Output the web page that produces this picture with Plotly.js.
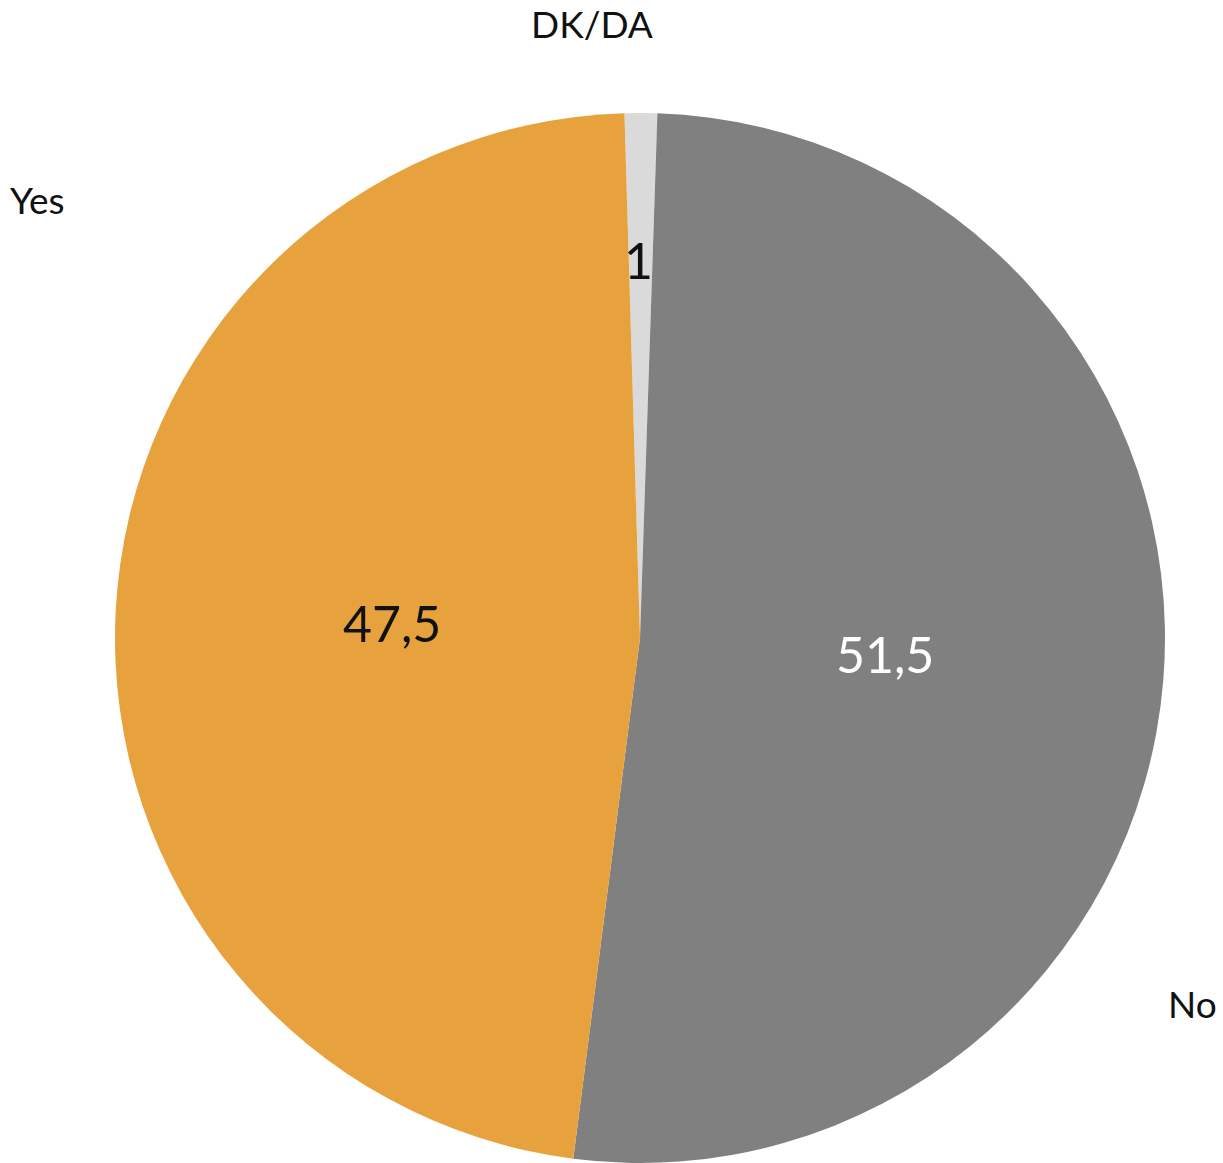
<!DOCTYPE html>
<html>
<head>
<meta charset="utf-8">
<script src="https://cdn.plot.ly/plotly-3.0.1.min.js"></script>
<style>html,body{margin:0;padding:0;background:#fff;}#chart{width:1223px;height:1163px;}</style>
</head>
<body>
<div id="chart"></div>
<script>
const categories = ["DK/DA", "No", "Yes"];
const values = [1, 51.5, 47.5];
const colors = ["#DADADA", "#7F807F", "#E7A23D"];
const valueTextColors = ["#111111", "#FFFFFF", "#111111"];

// label placement (pixel positions in the 1223x1163 page)
const W = 1223, H = 1163;
const categoryLabelPos = [[592, 0], [1192, 1003], [37, 200]];
const categoryLabelAnchor = ['top', 'middle', 'middle'];
const valueLabelPos = [[638, 260], [885, 654], [392, 623]];

function fmt(v) { return String(v).replace('.', ','); }

const font = "Lato, 'Open Sans', sans-serif";
const annotations = [];
categories.forEach((c, i) => {
  annotations.push({
    text: c, xref: 'paper', yref: 'paper',
    x: categoryLabelPos[i][0] / W, y: 1 - categoryLabelPos[i][1] / H,
    xanchor: 'center', yanchor: categoryLabelAnchor[i], showarrow: false,
    borderpad: 0,
    font: {family: font, size: 37, color: '#111111'}
  });
  annotations.push({
    text: fmt(values[i]), xref: 'paper', yref: 'paper',
    x: valueLabelPos[i][0] / W, y: 1 - valueLabelPos[i][1] / H,
    xanchor: 'center', yanchor: 'middle', showarrow: false,
    font: {family: font, size: 50, color: valueTextColors[i]}
  });
});

const trace = {
  type: 'pie',
  labels: categories,
  values: values,
  sort: false,
  direction: 'clockwise',
  rotation: -1.7,
  marker: {colors: colors, line: {width: 0}},
  textinfo: 'none',
  hoverinfo: 'none',
  showlegend: false,
  domain: {x: [115 / W, 1165 / W], y: [0, 1050 / H]}
};

Plotly.newPlot('chart', [trace], {
  width: W, height: H,
  margin: {l: 0, r: 0, t: 0, b: 0},
  paper_bgcolor: '#ffffff',
  showlegend: false,
  annotations: annotations
}, {displayModeBar: false, staticPlot: true});
</script>
</body>
</html>
